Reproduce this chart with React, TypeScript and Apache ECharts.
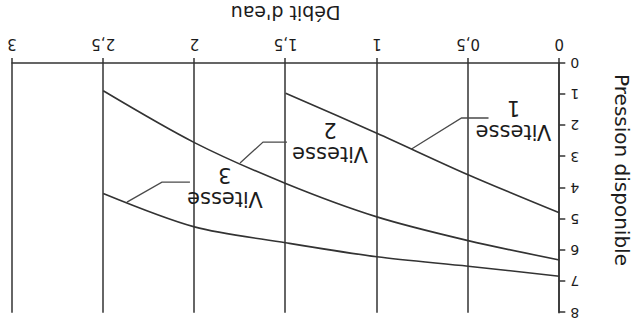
import React, { useEffect, useRef } from "react";
import * as echarts from "echarts";

// Débit d'eau (x) sampled every 0,5
const debit = [0, 0.5, 1, 1.5, 2, 2.5];
// Pression disponible for each fan speed
const vitesse1 = [4.8, 3.58, 2.25, 0.97];
const vitesse2 = [6.31, 5.69, 4.93, 3.86, 2.55, 0.89];
const vitesse3 = [6.83, 6.51, 6.21, 5.76, 5.25, 4.18];
const speedNames = ["1", "2", "3"];
// Débit at which each callout's leader meets its curve
const calloutDebit = [0.81, 1.75, 2.37];

const FONT = "'DejaVu Sans', 'Liberation Sans', sans-serif";
const INK = "#1c1c1c";
const LINE = "#333333";

// Callout geometry relative to the anchor on the curve (pixels)
const calloutLayout = [
  { knee: [-50, 31], end: [-77, 31], text: [-102, 29] },
  { knee: [-23, 21], end: [-47, 21], text: [-90, 21.5] },
  { knee: [-35, 20], end: [-63, 20], text: [-98, 15] },
];

const curves = [vitesse1, vitesse2, vitesse3];

function interpAt(xs: number[], ys: number[], x: number): number {
  for (let i = 0; i < ys.length - 1; i++) {
    if (x >= xs[i] && x <= xs[i + 1]) {
      const t = (x - xs[i]) / (xs[i + 1] - xs[i]);
      return ys[i] + t * (ys[i + 1] - ys[i]);
    }
  }
  return ys[ys.length - 1];
}

export default function App() {
  const ref = useRef<HTMLDivElement>(null);

  useEffect(() => {
    if (!ref.current) return;
    const chart = echarts.init(ref.current, undefined, { renderer: "svg" });

    const axisLineStyle = { color: LINE, width: 1.5 };

    chart.setOption({
      animation: false,
      backgroundColor: "#ffffff",
      grid: {
        left: 77.7,
        right: 12,
        top: 14.3,
        bottom: 63,
        containLabel: false,
        outerBoundsMode: "none",
      },
      xAxis: {
        type: "value",
        min: 0,
        max: 3,
        interval: 0.5,
        name: "Débit d'eau",
        nameLocation: "middle",
        nameGap: 41,
        nameTextStyle: { fontFamily: FONT, fontSize: 19, color: INK },
        axisLine: { show: true, onZero: false, lineStyle: axisLineStyle },
        axisTick: { show: true, length: 5, lineStyle: axisLineStyle },
        axisLabel: {
          margin: 12,
          fontFamily: FONT,
          fontSize: 15,
          color: INK,
          formatter: (v: number) => String(v).replace(".", ","),
        },
        splitLine: { show: true, lineStyle: { color: LINE, width: 1.5 } },
      },
      yAxis: {
        type: "value",
        min: 0,
        max: 8,
        interval: 1,
        axisLine: { show: true, onZero: false, lineStyle: axisLineStyle },
        axisTick: { show: true, length: 6, lineStyle: axisLineStyle },
        axisLabel: { margin: 11, fontFamily: FONT, fontSize: 14, color: INK },
        splitLine: { show: false },
      },
      series: curves.map((ys, i) => ({
        name: "Vitesse " + speedNames[i],
        type: "line",
        symbol: "none",
        smooth: 0.3,
        lineStyle: { color: LINE, width: 1.6 },
        data: ys.map((y, j) => [debit[j], y]),
      })),
    });

    // Callouts: leader line from the curve to the "Vitesse n" text
    const elements: any[] = [];
    curves.forEach((ys, i) => {
      const xv = calloutDebit[i];
      const yv = interpAt(debit, ys, xv);
      const p = chart.convertToPixel({ gridIndex: 0 }, [xv, yv]) as number[];
      const L = calloutLayout[i];
      elements.push({
        type: "polyline",
        silent: true,
        shape: {
          points: [
            [p[0], p[1]],
            [p[0] + L.knee[0], p[1] + L.knee[1]],
            [p[0] + L.end[0], p[1] + L.end[1]],
          ],
        },
        style: { stroke: "#4a4a4a", lineWidth: 1.3, fill: "none" },
      });
      elements.push({
        type: "text",
        silent: true,
        x: p[0] + L.text[0],
        y: p[1] + L.text[1],
        style: {
          text: "Vitesse\n" + speedNames[i],
          fontFamily: FONT,
          fontSize: 21,
          lineHeight: 24,
          fill: INK,
          align: "center",
          verticalAlign: "middle",
        },
      });
    });

    // Vertical axis title
    elements.push({
      type: "text",
      silent: true,
      x: 15,
      y: 157,
      rotation: Math.PI / 2,
      style: {
        text: "Pression disponible",
        fontFamily: FONT,
        fontSize: 20,
        fill: INK,
        align: "center",
        verticalAlign: "middle",
      },
    });

    chart.setOption({ graphic: { elements } });

    return () => chart.dispose();
  }, []);

  return (
    <div
      ref={ref}
      style={{
        position: "absolute",
        left: 0,
        top: 0,
        width: 637,
        height: 327,
        transform: "rotate(180deg)",
      }}
    />
  );
}
